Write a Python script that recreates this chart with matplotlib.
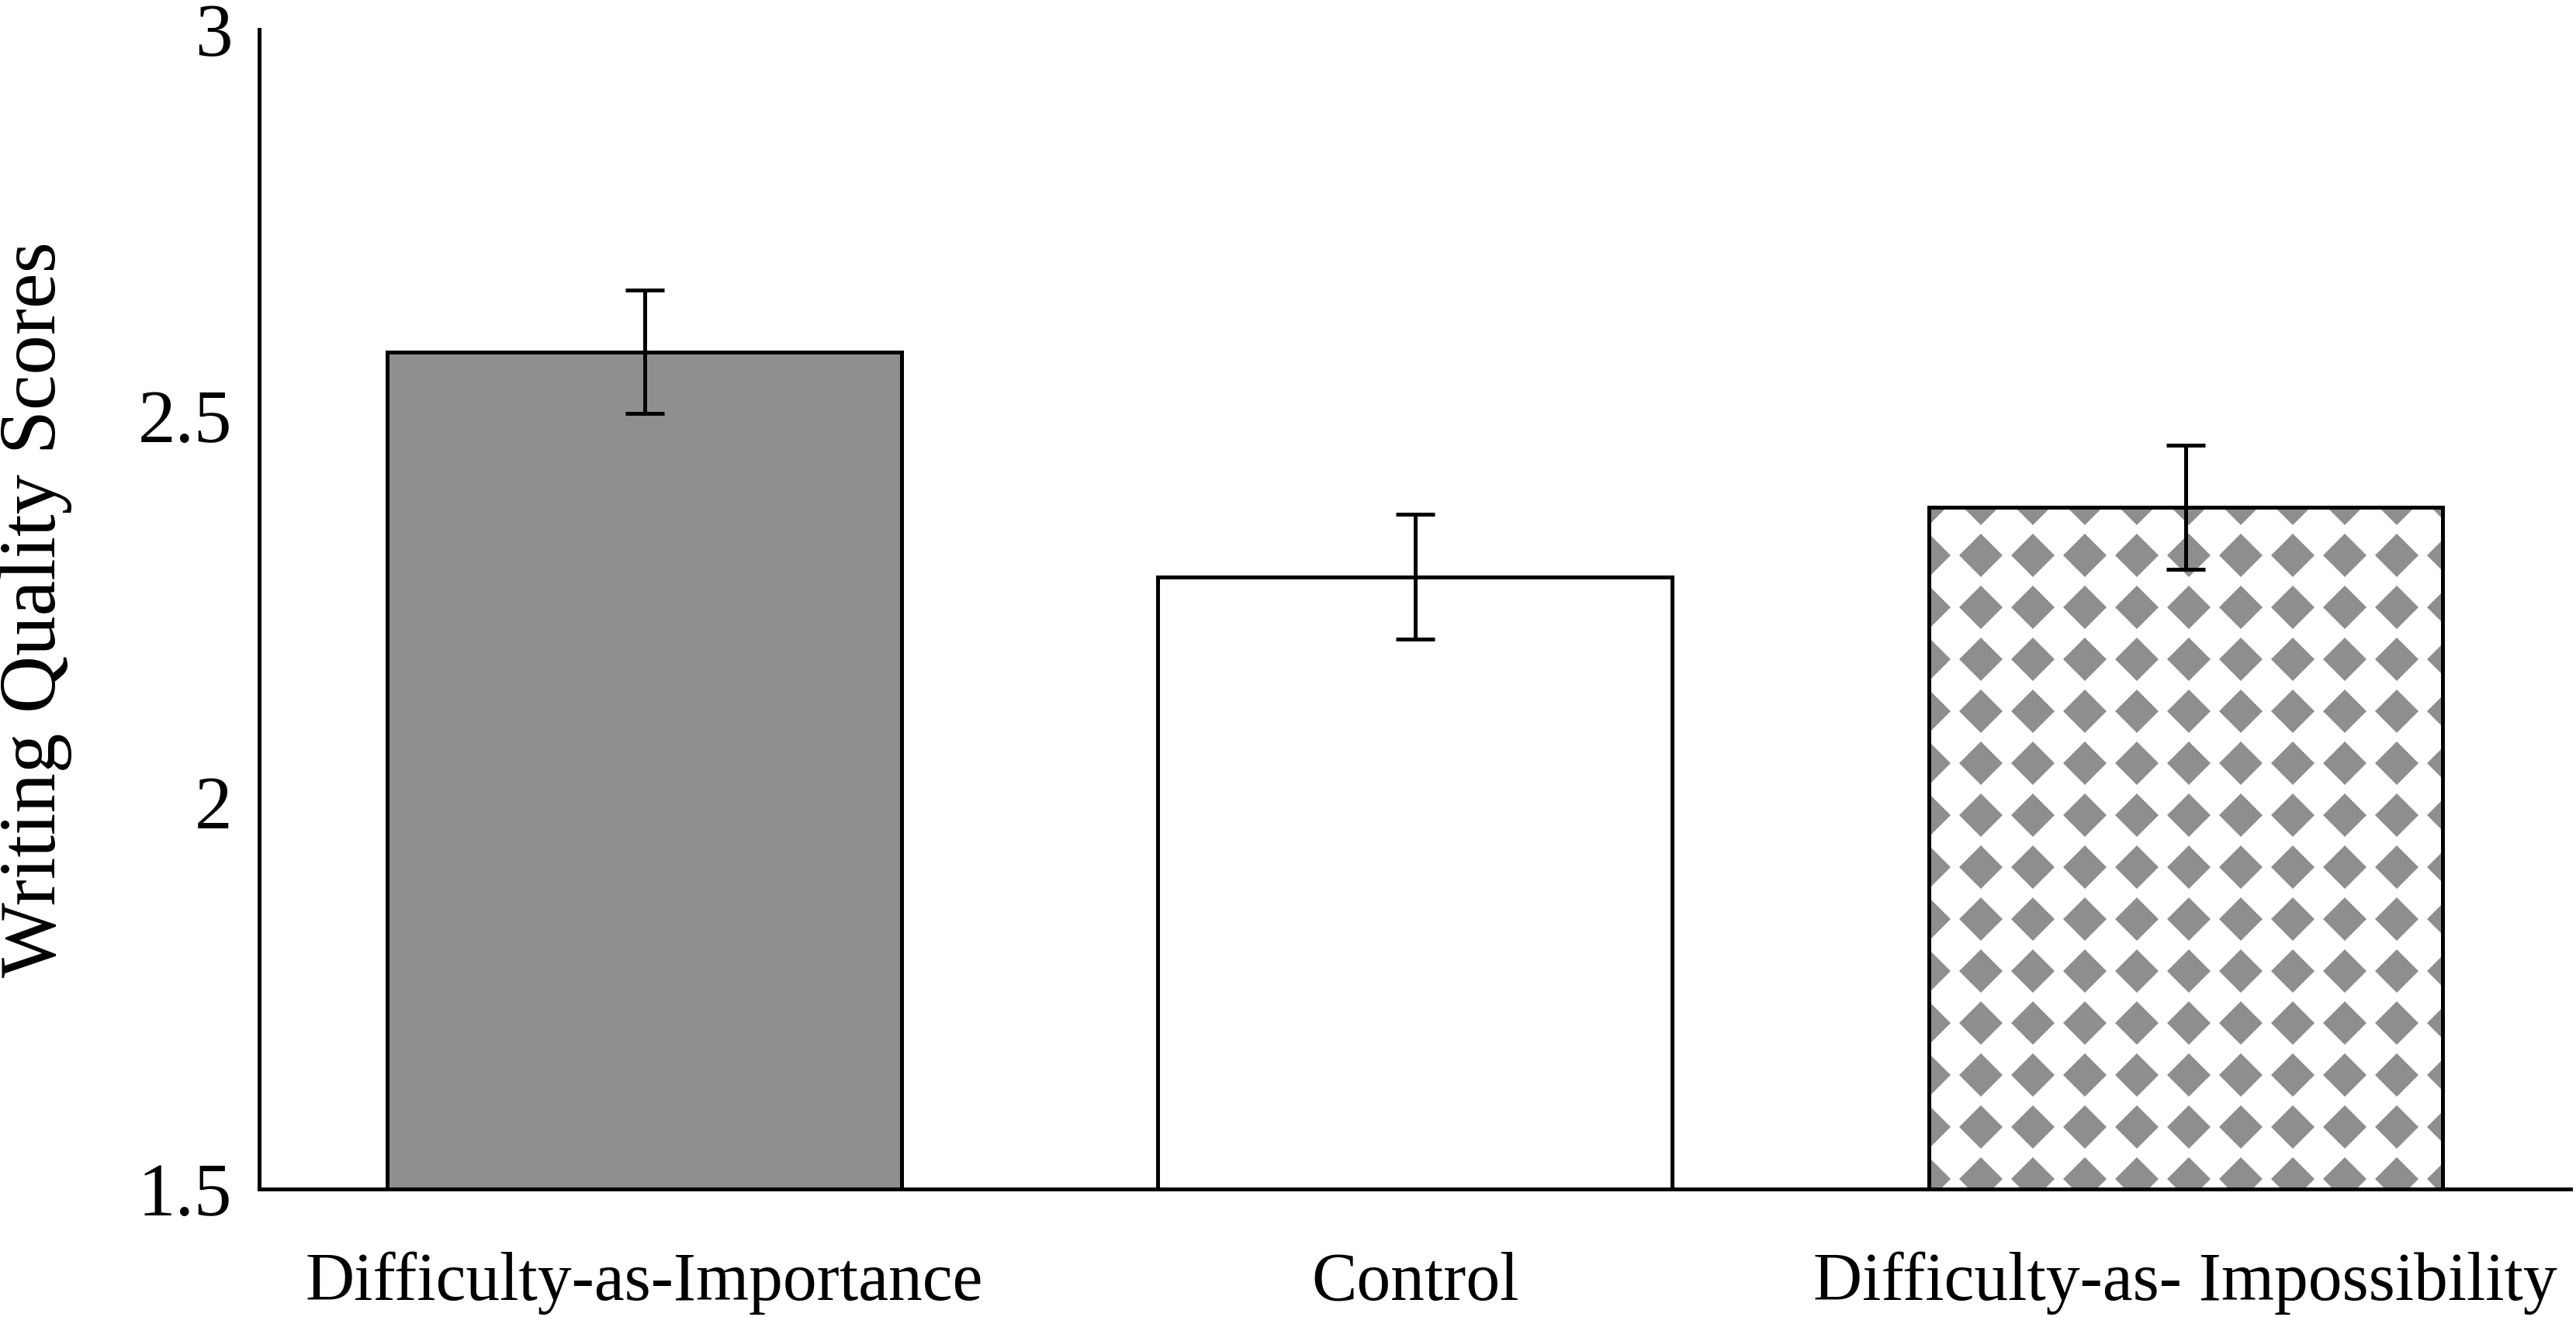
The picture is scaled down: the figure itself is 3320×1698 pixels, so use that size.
import numpy as np
import matplotlib
matplotlib.use("Agg")
import matplotlib.pyplot as plt

# data
conditions = ["Difficulty-as-Importance", "Control", "Difficulty-as- Impossibility"]
scores = [2.583, 2.292, 2.382]
errors = [0.080, 0.081, 0.080]

plt.rcParams['font.family'] = ['Liberation Serif', 'DejaVu Serif']

fig = plt.figure(figsize=(33.2, 16.98), dpi=100)
ax = fig.add_axes([0.1006, 0.0972, 0.8974, 0.8804])

x = np.arange(len(conditions))
width = 0.667
gray = '#8e8e8e'

bars = ax.bar(x, np.array(scores) - 1.5, width, bottom=1.5,
              color=[gray, 'white', 'white'], edgecolor='black',
              linewidth=3.6, zorder=2)

# diamond pattern for the third bar, clipped to the bar
b = bars[2]
step_x = 0.0675
step_y = 0.0672
xs = np.arange(b.get_x(), b.get_x() + b.get_width() + step_x, step_x)
ys = np.arange(scores[2] + 0.005, 1.5 - step_y, -step_y)
gx, gy = np.meshgrid(xs, ys)
pts = ax.plot(gx.ravel(), gy.ravel(), 'D', color=gray, markersize=29,
              markeredgewidth=0, zorder=2.5)[0]
pts.set_clip_path(b)
ax.bar(x[2], scores[2] - 1.5, width, bottom=1.5, facecolor='none',
       edgecolor='black', linewidth=3.6, zorder=3)

ax.errorbar(x, scores, yerr=errors, fmt='none', ecolor='black',
            elinewidth=3.6, capsize=18, capthick=3.6, zorder=4)

ax.set_xlim(-0.5, 2.5)
ax.set_ylim(1.5, 3)
ax.set_yticks([1.5, 2, 2.5, 3])
ax.set_yticklabels(['1.5', '2', '2.5', '3'])
ax.set_xticks(x)
ax.set_xticklabels(conditions)
ax.tick_params(axis='both', length=0)
ax.tick_params(axis='x', pad=58, labelsize=63)
ax.tick_params(axis='y', pad=25, labelsize=70)
ax.set_ylabel('Writing Quality Scores', fontsize=74)
ax.yaxis.set_label_coords(-0.081, 0.5)

for s in ['top', 'right']:
    ax.spines[s].set_visible(False)
for s in ['left', 'bottom']:
    ax.spines[s].set_linewidth(3.6)
    ax.spines[s].set_zorder(5)

fig.savefig('out.png', dpi=100)
